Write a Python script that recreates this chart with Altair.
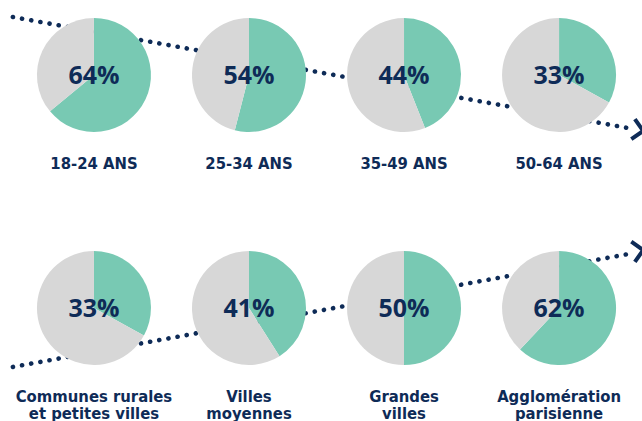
import altair as alt
import pandas as pd

# ---- data ----
top_labels = ["18-24 ANS", "25-34 ANS", "35-49 ANS", "50-64 ANS"]
top_values = [64, 54, 44, 33]
bottom_labels = ["Communes rurales\net petites villes", "Villes\nmoyennes",
                 "Grandes\nvilles", "Agglomération\nparisienne"]
bottom_values = [33, 41, 50, 62]

# trend arrows in grid units (column index, row index)
trend_top_x = [-0.523, 3.458]
trend_top_y = [-0.249, 0.229]
trend_bot_x = [-0.523, 3.458]
trend_bot_y = [1.253, 0.767]
head_x = [3.51, 3.51]
head_y = [0.236, 0.755]
head_angle = [10, 350]

GREEN = "#78C9B3"
GREY = "#D7D7D7"
NAVY = "#0E2B57"

rows = []
labels = []
for r, (labs, vals) in enumerate([(top_labels, top_values), (bottom_labels, bottom_values)]):
    for c, (lab, v) in enumerate(zip(labs, vals)):
        rows.append(dict(col=c, row=r, part="oui", start=0, end=v))
        rows.append(dict(col=c, row=r, part="non", start=v, end=100))
        labels.append(dict(col=c, row=r, pct=f"{v}%", label=lab))
pies = pd.DataFrame(rows)
labs_df = pd.DataFrame(labels)

trend = pd.DataFrame(
    [dict(line="top", x=x, y=y, o=i) for i, (x, y) in enumerate(zip(trend_top_x, trend_top_y))]
    + [dict(line="bot", x=x, y=y, o=i) for i, (x, y) in enumerate(zip(trend_bot_x, trend_bot_y))]
)
heads = pd.DataFrame(dict(x=head_x, y=head_y, ang=head_angle))

xs = alt.Scale(domain=[-0.606, 3.535])
ys = alt.Scale(domain=[1.485, -0.322])

lines = alt.Chart(trend).mark_line(
    strokeDash=[0.1, 9.2], strokeCap="round", strokeWidth=4.6, color=NAVY
).encode(
    x=alt.X("x:Q", scale=xs, axis=None),
    y=alt.Y("y:Q", scale=ys, axis=None),
    detail="line:N",
    order="o:Q",
)

arrow = alt.Chart(heads).mark_point(
    shape="M-0.5,-1L0.5,0L-0.5,1", filled=False, size=420, strokeWidth=4,
    color=NAVY, opacity=1, strokeJoin="miter"
).encode(
    x=alt.X("x:Q", scale=xs, axis=None),
    y=alt.Y("y:Q", scale=ys, axis=None),
    angle=alt.Angle("ang:Q", scale=None),
)

arcs = alt.Chart(pies).mark_arc(radius=57).encode(
    x=alt.X("col:Q", scale=xs, axis=None),
    y=alt.Y("row:Q", scale=ys, axis=None),
    theta=alt.Theta("start:Q", scale=alt.Scale(domain=[0, 100], range=[0, 6.283185]), stack=None),
    theta2="end:Q",
    color=alt.Color("part:N", scale=alt.Scale(domain=["oui", "non"], range=[GREEN, GREY]), legend=None),
)

pct = alt.Chart(labs_df).mark_text(
    font="Open Sans", fontWeight="bold", fontSize=25, color=NAVY,
    baseline="middle", align="center", dy=1
).encode(
    x=alt.X("col:Q", scale=xs, axis=None),
    y=alt.Y("row:Q", scale=ys, axis=None),
    text="pct:N",
)

cat = alt.Chart(labs_df).mark_text(
    font="DejaVu Sans Condensed", fontWeight="bold",
    fontSize=16.5, color=NAVY, baseline="alphabetic", align="center", dy=93.5,
    lineBreak="\n", lineHeight=17
).encode(
    x=alt.X("col:Q", scale=xs, axis=None),
    y=alt.Y("row:Q", scale=ys, axis=None),
    text="label:N",
)

chart = alt.layer(lines, arrow, arcs, pct, cat).properties(
    width=642, height=421, autosize=alt.AutoSizeParams(type="none"), padding=0,
    background="white"
).configure_view(stroke=None)

chart.save("out.html", embed_options={"renderer": "svg", "actions": False})
